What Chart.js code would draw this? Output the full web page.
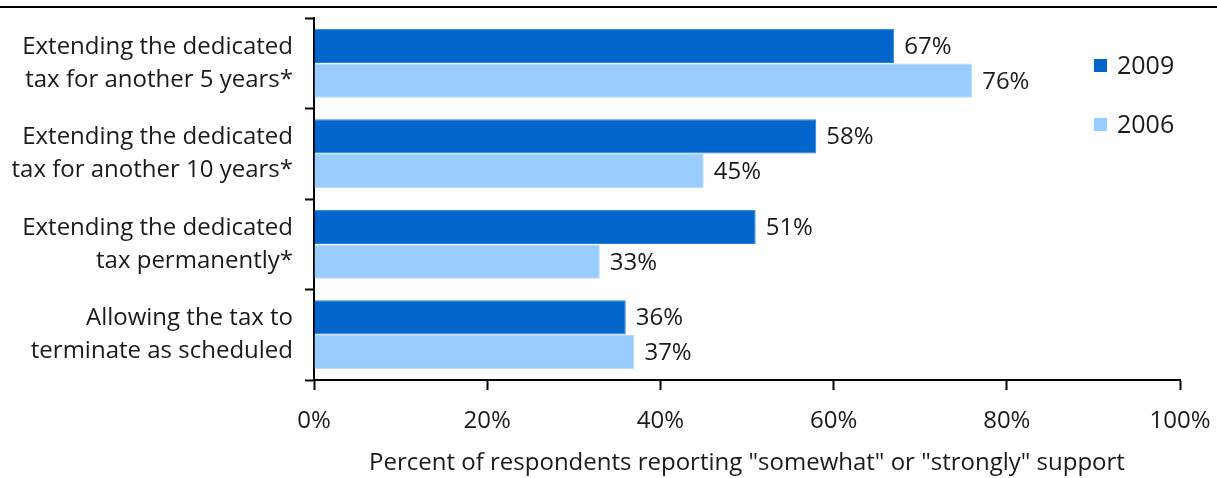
<!DOCTYPE html>
<html>
<head>
<meta charset="utf-8">
<script src="https://cdn.jsdelivr.net/npm/chart.js@4/dist/chart.umd.min.js"></script>
<style>
  body { margin: 0; background: #fff; }
  #wrap { position: relative; width: 1217px; height: 478px; }
  #topline { position: absolute; left: 0; top: 6px; width: 1217px; height: 2px; background: #000; }
</style>
</head>
<body>
<div id="wrap">
  <div id="topline"></div>
  <canvas id="chart" width="1217" height="478"></canvas>
</div>
<script>
// 数据
const categories = [
  ['Extending the dedicated', 'tax for another 5 years*'],
  ['Extending the dedicated', 'tax for another 10 years*'],
  ['Extending the dedicated', 'tax permanently*'],
  ['Allowing the tax to', 'terminate as scheduled']
];
const values2009 = [67, 58, 51, 36];
const values2006 = [76, 45, 33, 37];
const xTicks = [0, 20, 40, 60, 80, 100];

const FONT = '"Open Sans", sans-serif';
const TEXT = '#1a1a1a';

// 数值标签
const valueLabels = {
  id: 'valueLabels',
  afterDatasetsDraw(chart) {
    const ctx = chart.ctx;
    ctx.save();
    ctx.font = '24px ' + FONT;
    ctx.fillStyle = TEXT;
    ctx.textAlign = 'left';
    ctx.textBaseline = 'middle';
    chart.data.datasets.forEach((ds, i) => {
      chart.getDatasetMeta(i).data.forEach((bar, j) => {
        ctx.fillText(ds.data[j] + '%', bar.x + 10, bar.y + 1);
      });
    });
    ctx.restore();
  }
};

// 图例
const sideLegend = {
  id: 'sideLegend',
  afterDraw(chart) {
    const ctx = chart.ctx;
    ctx.save();
    ctx.font = '25px ' + FONT;
    ctx.textBaseline = 'middle';
    chart.data.datasets.forEach((ds, i) => {
      const y = 66 + i * 59;
      ctx.fillStyle = ds.backgroundColor;
      ctx.fillRect(1094, y - 7, 13, 13);
      ctx.fillStyle = TEXT;
      ctx.fillText(ds.label, 1117, y + 1);
    });
    ctx.restore();
  }
};

new Chart(document.getElementById('chart').getContext('2d'), {
  type: 'bar',
  data: {
    labels: categories,
    datasets: [
      { label: '2009', data: values2009, backgroundColor: '#0066CC', borderColor: '#2a7fd6', borderWidth: 1 },
      { label: '2006', data: values2006, backgroundColor: '#99CCFF', borderColor: '#b3d9ff', borderWidth: 1 }
    ]
  },
  options: {
    indexAxis: 'y',
    responsive: false,
    animation: false,
    layout: { padding: { top: 18, right: 37, bottom: 0, left: 0 } },
    datasets: { bar: { categoryPercentage: 0.77, barPercentage: 0.98 } },
    plugins: { legend: { display: false }, tooltip: { enabled: false } },
    scales: {
      x: {
        min: 0, max: 100,
        afterBuildTicks(axis) { axis.ticks = xTicks.map(v => ({ value: v })); },
        afterFit(axis) {
          axis.height = 98;
          axis.paddingLeft = 0;
          axis.paddingRight = 0;
        },
        grid: { drawOnChartArea: false, tickLength: 10, tickWidth: 2, tickColor: '#000' },
        border: { color: '#000', width: 2 },
        ticks: {
          padding: 17,
          color: TEXT,
          font: { family: FONT, size: 24 },
          callback: v => v + '%'
        },
        title: {
          display: true,
          text: 'Percent of respondents reporting "somewhat" or "strongly" support',
          color: TEXT,
          font: { family: FONT, size: 24 },
          padding: { top: 0, bottom: 0 }
        }
      },
      y: {
        afterFit(axis) {
          axis.width = 314;
          axis.paddingTop = 0;
          axis.paddingBottom = 0;
        },
        grid: { drawOnChartArea: false, offset: true, tickLength: 9, tickWidth: 2, tickColor: '#000' },
        border: { color: '#000', width: 2 },
        ticks: {
          padding: 12,
          color: TEXT,
          font: { family: FONT, size: 24, lineHeight: 1.375 }
        }
      }
    }
  },
  plugins: [valueLabels, sideLegend]
});
</script>
</body>
</html>
